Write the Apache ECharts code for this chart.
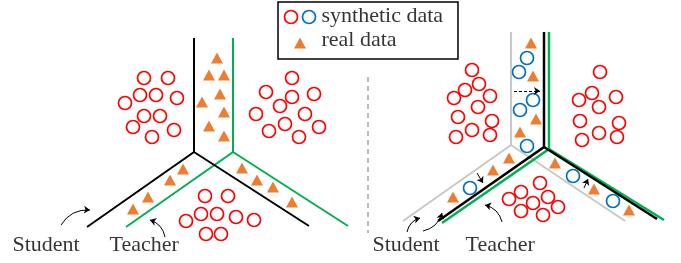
<!DOCTYPE html>
<html>
<head>
<meta charset="utf-8">
<script src="https://cdn.jsdelivr.net/npm/echarts@6/dist/echarts.min.js"></script>
<style>
  html, body { margin: 0; padding: 0; background: #fff; }
  #main { width: 681px; height: 263px; }
</style>
</head>
<body>
<div id="main"></div>
<script>
// diagram space: x 0..681, y 0..263 (y grows downward)

// left panel: student (black) and teacher (green) boundaries
var studentLeft = [[[194, 38], [194, 152], [87, 227]], [[194, 152], [309, 226]]];
var teacherLeft = [[[233, 38], [233, 152], [126, 227]], [[233, 152], [348, 226]]];

// right panel: old student (gray), new student (black), teacher (green)
var oldStudentRight = [[[511, 32], [511, 145], [403, 221]], [[511, 145], [625, 221]]];
var studentRight = [[[544, 32], [544, 147], [438, 221]], [[544, 147], [657, 219]]];
var teacherRight = [[[549, 32], [549, 149], [442, 223]], [[549, 149], [664, 220]]];

var separator = [[368, 77], [368, 233]];

var redLeft = [
  [144, 78], [168, 78], [140, 95], [156, 95], [177, 98], [125, 103], [144, 116],
  [160, 116], [133, 127], [174, 130], [152, 137],
  [292, 78], [266, 92], [292, 97], [314, 94], [280, 106], [256, 114], [305, 114],
  [285, 124], [269, 131], [319, 127], [299, 137],
  [205, 196], [228, 196], [201, 214], [217, 214], [236, 217], [254, 220], [186, 221],
  [206, 234], [221, 234]
];
var redRight = [
  [472, 70], [465, 90], [479, 84], [454, 98], [490, 96], [478, 107], [458, 117],
  [492, 121], [472, 130], [456, 137], [490, 135],
  [600, 72], [592, 93], [579, 100], [616, 97], [599, 107], [580, 121], [619, 123],
  [599, 133], [582, 140], [617, 137],
  [540, 183], [521, 192], [548, 197], [509, 199], [533, 203], [558, 207], [521, 211],
  [543, 215]
];
var blueRight = [
  [527, 58], [519, 72], [533, 100], [520, 110], [527, 146], [470, 188], [573, 176], [613, 201]
];
var triLeft = [
  [217, 58], [209, 75], [224, 75], [220, 94], [202, 102], [224, 112], [209, 126], [224, 136],
  [183, 169], [170, 180], [148, 197], [133, 209],
  [242, 168], [257, 180], [273, 187], [292, 202]
];
var triRight = [
  [531, 43], [533, 76], [536, 119], [520, 132],
  [509, 158], [493, 170], [453, 197],
  [555, 163], [594, 189], [629, 210]
];

// pointer arrows [from, to, curveness]
var curvedArrows = [
  [[61, 225], [90, 210], 0.3],
  [[165, 237], [150, 220], -0.3],
  [[407, 232], [420, 218], 0.3],
  [[423, 231], [442, 213], -0.3],
  [[502, 222], [485, 205], -0.3]
];
var moveArrows = [
  [[477, 173], [483, 183]],
  [[584, 188], [588, 179]]
];
var dashedArrow = [[514, 91], [540, 91]];

// legend
var legendRed = [[291, 17]];
var legendBlue = [[309, 17]];
var legendTri = [[300, 43]];
var labels = [
  { name: 'synthetic data', value: [321, 16] },
  { name: 'real data', value: [321, 40] },
  { name: 'Student', value: [12, 245] },
  { name: 'Teacher', value: [109, 245] },
  { name: 'Student', value: [372, 245] },
  { name: 'Teacher', value: [465, 245] }
];

var RED = '#ff0000', BLUE = '#0070c0', ORANGE = '#ed7d31',
    GREEN = '#00b050', GRAY = '#c8c8c8';

function boundary(paths, color, width) {
  return {
    type: 'lines', coordinateSystem: 'cartesian2d', polyline: true,
    silent: true, z: 2,
    lineStyle: { color: color, width: width, opacity: 1 },
    data: paths.map(function (p) { return { coords: p }; })
  };
}
function circles(pts, color) {
  return {
    type: 'scatter', symbol: 'circle', symbolSize: 13, z: 4,
    itemStyle: { color: '#fff', borderColor: color, borderWidth: 1.7, opacity: 1 },
    data: pts
  };
}
function triangles(pts) {
  return {
    type: 'scatter', symbol: 'triangle', symbolSize: [12, 11], z: 4,
    itemStyle: { color: ORANGE, opacity: 1 },
    data: pts
  };
}

var chart = echarts.init(document.getElementById('main'));
chart.setOption({
  animation: false,
  grid: { left: 0, right: 0, top: 0, bottom: 0 },
  xAxis: { type: 'value', min: 0, max: 681, show: false },
  yAxis: { type: 'value', min: 0, max: 263, inverse: true, show: false },
  graphic: [{
    type: 'rect', shape: { x: 278, y: 2, width: 180, height: 57 },
    style: { fill: 'none', stroke: '#000', lineWidth: 1.5 }
  }],
  series: [
    {
      type: 'lines', coordinateSystem: 'cartesian2d', polyline: true, silent: true,
      lineStyle: { color: '#a6a6a6', width: 1.5, type: [5, 4], opacity: 1 },
      data: [{ coords: separator }]
    },
    boundary(oldStudentRight, GRAY, 2),
    boundary(teacherLeft, GREEN, 2),
    boundary(studentLeft, '#000', 2),
    boundary(teacherRight, GREEN, 2.5),
    boundary(studentRight, '#000', 2.5),
    circles(redLeft, RED),
    circles(redRight, RED),
    circles(blueRight, BLUE),
    triangles(triLeft),
    triangles(triRight),
    {
      type: 'lines', coordinateSystem: 'cartesian2d', silent: true, z: 5,
      symbol: ['none', 'arrow'], symbolSize: 6,
      lineStyle: { color: '#000', width: 1, opacity: 1 },
      data: curvedArrows.map(function (a) {
        return { coords: [a[0], a[1]], lineStyle: { curveness: a[2] } };
      }).concat(moveArrows.map(function (a) { return { coords: a }; }))
    },
    {
      type: 'lines', coordinateSystem: 'cartesian2d', silent: true, z: 5,
      symbol: ['none', 'arrow'], symbolSize: 6,
      lineStyle: { color: '#000', width: 1, type: [3, 2], opacity: 1 },
      data: [{ coords: dashedArrow }]
    },
    circles(legendRed, RED),
    circles(legendBlue, BLUE),
    triangles(legendTri),
    {
      type: 'scatter', symbol: 'circle', symbolSize: 1, silent: true, z: 6,
      itemStyle: { color: 'rgba(0,0,0,0)' },
      label: {
        show: true, position: 'right', distance: 0, formatter: '{b}',
        fontFamily: 'Liberation Serif', fontSize: 22, color: '#000'
      },
      data: labels
    }
  ]
});
</script>
</body>
</html>
